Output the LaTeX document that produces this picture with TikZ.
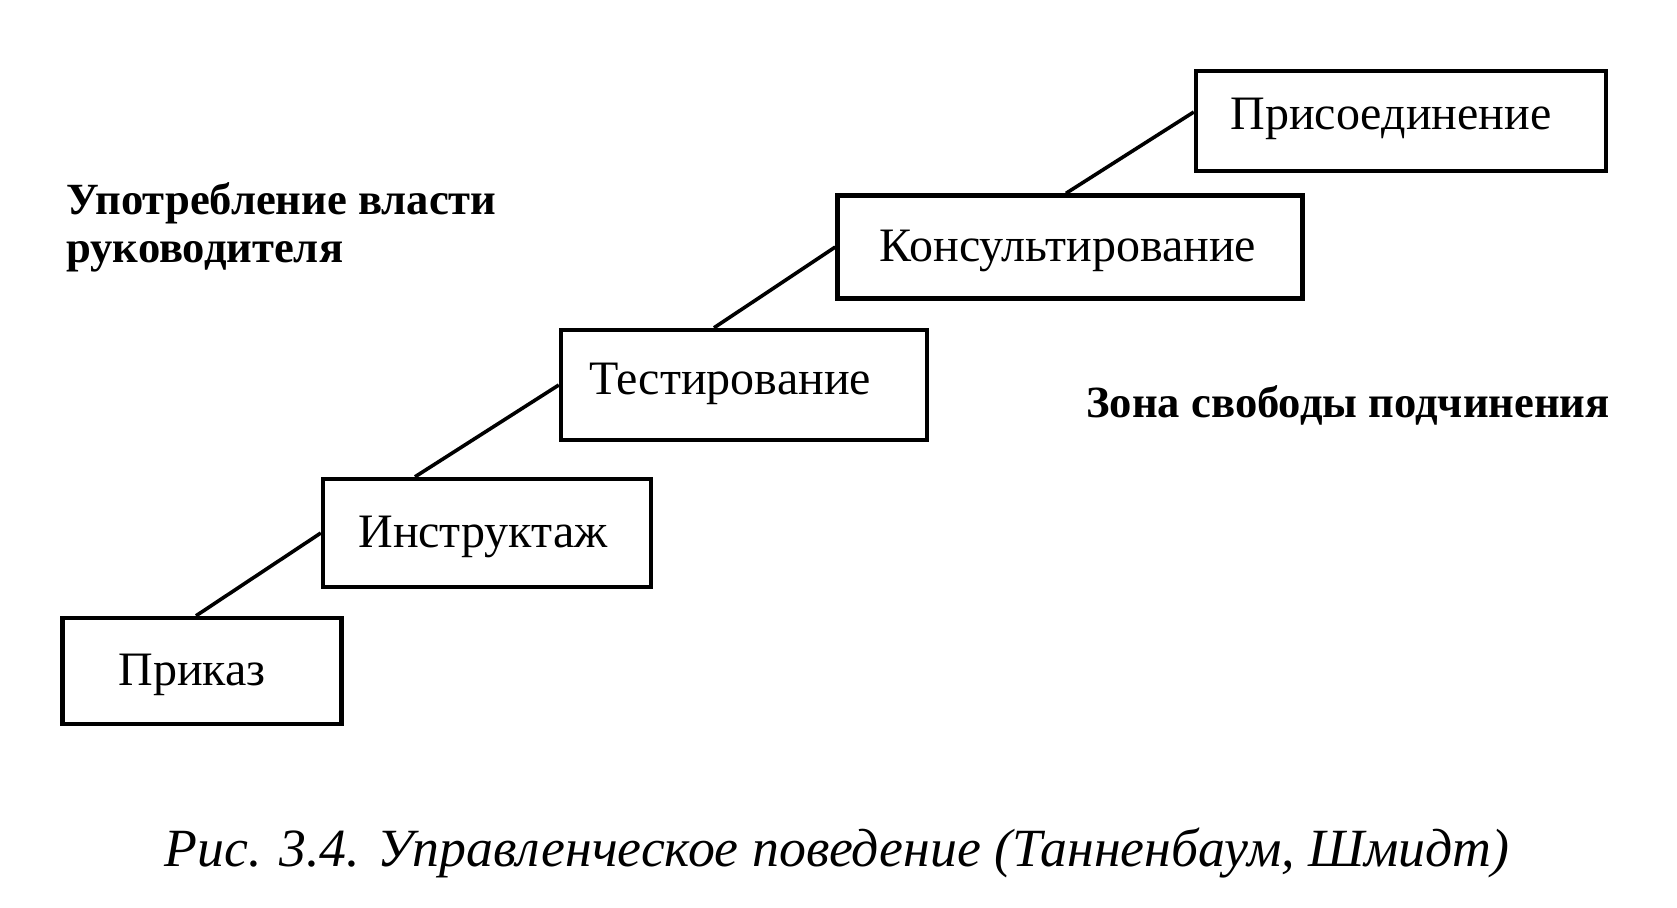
\documentclass[tikz,border=0pt]{standalone}
\usepackage{fontspec}
\setmainfont{Liberation Serif}
\begin{document}
\begin{tikzpicture}[x=0.5pt,y=-0.5pt,
  box/.style={draw, line width=2.2pt, inner sep=0pt, text height=16.5pt, text depth=2pt,
    font=\fontsize{24}{28}\selectfont},
  conn/.style={line width=1.8pt},
  lbl/.style={inner sep=0pt, font=\fontsize{22.3}{28}\selectfont\bfseries},
  captext/.style={inner sep=0pt, font=\fontsize{26.9}{30}\selectfont\itshape}]
\useasboundingbox[fill=white] (0,0) rectangle (1677,907);
\node[box, minimum width=205pt, minimum height=50pt, text depth=8pt] (pris) at (1401,121) {Присоединение\hspace*{10pt}};
\node[box, minimum width=232.5pt, minimum height=51.5pt] (kons) at (1070,247) {Консультирование\hspace*{2pt}};
\node[box, minimum width=183pt, minimum height=55pt, text depth=7pt] (test) at (744,385) {Тестирование\hspace*{14pt}};
\node[box, minimum width=164pt, minimum height=54pt] (instr) at (487,533) {Инструктаж\hspace*{4pt}};
\node[box, minimum width=139.5pt, minimum height=53pt] (prik) at (202,671) {Приказ\hspace*{10pt}};
\draw[conn] ([xshift=-3pt]prik.north) -- (instr.west);
\draw[conn] ([xshift=-36pt]instr.north) -- (test.west);
\draw[conn] ([xshift=-15pt]test.north) -- (kons.west);
\draw[conn] ([xshift=-2pt]kons.north) -- ([yshift=4.5pt]pris.west);
\node[lbl, anchor=base west] (l1) at (66,214) {Употребление власти};
\node[lbl, anchor=base west] (l2) at (66,262) {руководителя};
\node[lbl, anchor=base west] (zona) at (1086,417) {Зона свободы подчинения};
\node[captext, anchor=base] (caption) at (837,866) {Рис. 3.4. Управленческое поведение (Танненбаум, Шмидт)};
\end{tikzpicture}
\end{document}
